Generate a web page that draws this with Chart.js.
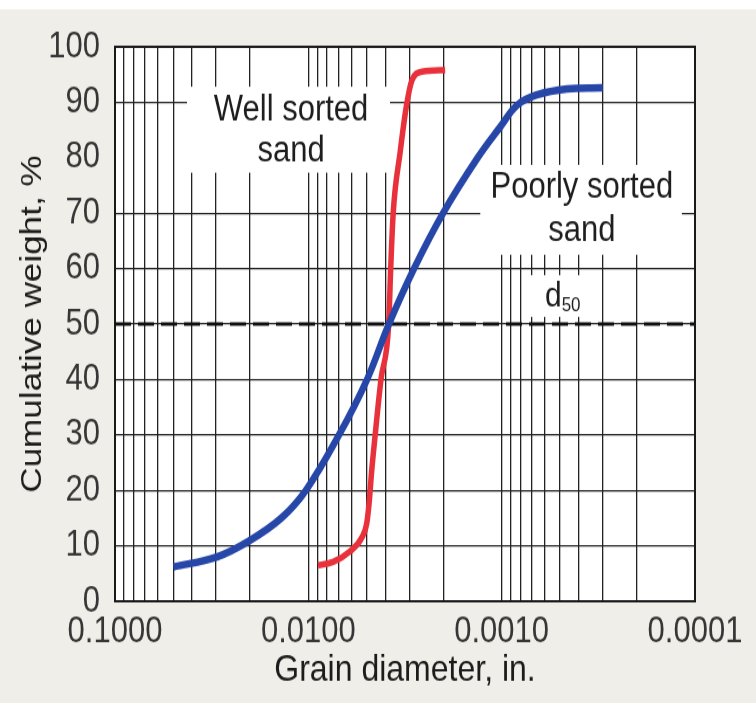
<!DOCTYPE html>
<html><head><meta charset="utf-8">
<script src="https://cdn.jsdelivr.net/npm/chart.js@4"></script>
<style>
html,body{margin:0;padding:0;background:#efeee8;overflow:hidden;}
</style></head>
<body>
<canvas id="c" width="756" height="601" style="display:block;width:756px;height:703px;"></canvas>
<script>
// ---- data ----
const xTickValues = [0.1, 0.01, 0.001, 0.0001];
const xTickLabels = ['0.1000', '0.0100', '0.0010', '0.0001'];
const xGridValues = [0.1, 0.09, 0.08, 0.07, 0.06, 0.05, 0.04, 0.03, 0.02,
  0.01, 0.009, 0.008, 0.007, 0.006, 0.005, 0.004, 0.003, 0.002,
  0.001, 0.0009, 0.0008, 0.0007, 0.0006, 0.0005, 0.0004, 0.0003, 0.0002, 0.0001];
const yTickValues = [0, 10, 20, 30, 40, 50, 60, 70, 80, 90, 100];

const wellSortedDiameter = [0.00891, 0.00745, 0.00609, 0.00528, 0.00499, 0.00485, 0.00470, 0.00452, 0.00421, 0.00384, 0.00375, 0.00364, 0.00335, 0.00312, 0.00291, 0.00258, 0.00196];
const wellSortedWeight   = [6.5, 7.1, 9.0, 11.5, 14.0, 17.7, 23.6, 29.7, 40.0, 50.0, 60.0, 70.0, 81.0, 89.0, 94.0, 95.5, 95.8];

const poorlySortedDiameter = [0.0499, 0.0297, 0.0200, 0.0138, 0.0103, 0.00694, 0.00497, 0.00383, 0.00284, 0.00201, 0.00133, 0.00102, 0.00083, 0.00066, 0.00046, 0.00030];
const poorlySortedWeight   = [6.2, 8.0, 11.0, 15.0, 20.0, 30.0, 40.0, 50.0, 60.0, 70.0, 80.0, 85.5, 89.5, 91.3, 92.4, 92.6];

const d50Diameter = [0.1, 0.0001];
const d50Weight = [50, 50];

// annotation text and white label panels (data units)
const panelText = [
  {text: 'Well sorted', x: 0.01228, y: 86.8},
  {text: 'sand', x: 0.01228, y: 79.3},
  {text: 'Poorly sorted', x: 0.000385, y: 72.7},
  {text: 'sand', x: 0.000385, y: 64.9}
];
const panelBoxes = [
  {x0: 0.0424, x1: 0.00378, y0: 92.8, y1: 77.3},
  {x0: 0.00129, x1: 0.000117, y0: 78.7, y1: 62.5},
  {x0: 0.000757, x1: 0.000349, y0: 58.8, y1: 51.3}
];
const d50Label = {x: 0.000597, y: 53.1};

const FONT = '"Liberation Sans", Arial, Helvetica, sans-serif';

const toPts = (xs, ys) => xs.map((x, i) => ({x: x, y: ys[i]}));

const decorPlugin = {
  id: 'decor',
  beforeDraw(chart) {
    const {ctx, chartArea: a} = chart;
    ctx.save();
    ctx.fillStyle = '#efeee8';
    ctx.fillRect(0, 0, chart.width, chart.height);
    ctx.fillStyle = '#ffffff';
    ctx.fillRect(0, 0, chart.width, 8);
    ctx.fillRect(a.left, a.top, a.right - a.left, a.bottom - a.top);
    ctx.restore();
  },
  beforeDatasetsDraw(chart) {
    const {ctx, chartArea: a, scales: {x, y}} = chart;
    ctx.save();
    ctx.fillStyle = '#ffffff';
    panelBoxes.forEach(b => {
      const px0 = x.getPixelForValue(b.x0), px1 = x.getPixelForValue(b.x1);
      const py0 = y.getPixelForValue(b.y0), py1 = y.getPixelForValue(b.y1);
      ctx.fillRect(Math.min(px0, px1), Math.min(py0, py1), Math.abs(px1 - px0), Math.abs(py1 - py0));
    });
    ctx.strokeStyle = '#1a1a1a';
    ctx.lineWidth = 2;
    ctx.strokeRect(a.left, a.top, a.right - a.left, a.bottom - a.top);
    ctx.fillStyle = '#1e1e1e';
    ctx.textAlign = 'center';
    ctx.textBaseline = 'alphabetic';
    ctx.font = '31px ' + FONT;
    panelText.forEach(t => {
      ctx.fillText(t.text, x.getPixelForValue(t.x), y.getPixelForValue(t.y));
    });
    ctx.textAlign = 'left';
    const dx = x.getPixelForValue(d50Label.x), dy = y.getPixelForValue(d50Label.y);
    ctx.font = '30px ' + FONT;
    ctx.fillText('d', dx, dy);
    const w = ctx.measureText('d').width;
    ctx.font = '17px ' + FONT;
    ctx.fillText('50', dx + w, dy + 4);
    ctx.restore();
  }
};

new Chart(document.getElementById('c'), {
  type: 'line',
  data: {
    datasets: [
      {
        label: 'Poorly sorted sand',
        data: toPts(poorlySortedDiameter, poorlySortedWeight),
        borderColor: '#2646a8',
        borderWidth: 6.5,
        pointRadius: 0,
        tension: 0.4,
        order: 0
      },
      {
        label: 'Well sorted sand',
        data: toPts(wellSortedDiameter, wellSortedWeight),
        borderColor: '#e8313b',
        borderWidth: 5.5,
        pointRadius: 0,
        cubicInterpolationMode: 'monotone',
        order: 1
      },
      {
        label: 'd50',
        data: toPts(d50Diameter, d50Weight),
        borderColor: '#111111',
        borderWidth: 3,
        borderDash: [16, 7],
        pointRadius: 0,
        order: 2
      }
    ]
  },
  options: {
    responsive: false,
    animation: false,
    devicePixelRatio: 1,
    layout: {padding: {top: 40, right: 61, left: 0, bottom: 0}},
    plugins: {legend: {display: false}, tooltip: {enabled: false}},
    scales: {
      x: {
        type: 'logarithmic',
        reverse: true,
        min: 0.0001,
        max: 0.1,
        afterBuildTicks(scale) {
          scale.ticks = xGridValues.map(v => ({value: v}));
        },
        afterFit(scale) { scale.height = 87; },
        border: {display: false},
        grid: {color: '#222222', lineWidth: 1.3, drawTicks: false},
        ticks: {
          autoSkip: false,
          maxRotation: 0,
          minRotation: 0,
          padding: 8,
          color: '#363636',
          font: {family: FONT, size: 31},
          callback(value) {
            const i = xTickValues.indexOf(value);
            return i >= 0 ? xTickLabels[i] : '';
          }
        },
        title: {
          display: true,
          text: 'Grain diameter, in.',
          color: '#1c1c1c',
          font: {family: FONT, size: 32, weight: 'normal'},
          padding: {top: 0, bottom: 9}
        }
      },
      y: {
        type: 'linear',
        min: 0,
        max: 100,
        afterBuildTicks(scale) {
          scale.ticks = yTickValues.map(v => ({value: v}));
        },
        afterFit(scale) { scale.width = 115; },
        border: {display: false},
        grid: {
          lineWidth: 1.3,
          drawTicks: false,
          color: (c) => (c.tick && c.tick.value === 80) ? 'rgba(0,0,0,0)' : '#222222'
        },
        ticks: {
          padding: 15,
          color: '#363636',
          font: {family: FONT, size: 31}
        },
        title: {
          display: true,
          text: 'Cumulative weight, %',
          color: '#1c1c1c',
          font: {family: FONT, size: 30, weight: 'normal'},
          padding: {top: 15, bottom: 0}
        }
      }
    }
  },
  plugins: [decorPlugin]
});
</script>
</body></html>
